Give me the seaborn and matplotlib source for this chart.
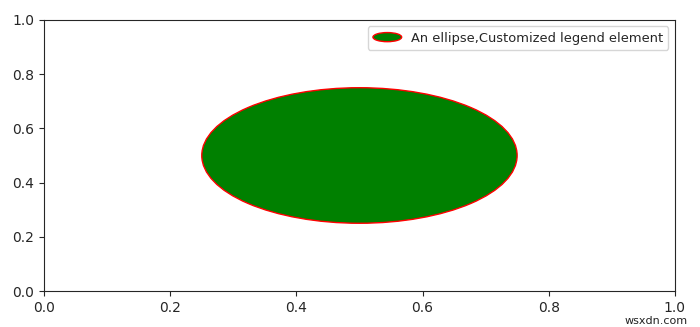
import matplotlib
matplotlib.use("Agg")
import matplotlib.pyplot as plt
import seaborn as sns
from matplotlib.patches import Ellipse
from matplotlib.legend_handler import HandlerPatch

sns.set_style("ticks")
plt.rcParams['font.family'] = ['DejaVu Sans']

center_x = [0.5]
center_y = [0.5]
ell_width = [0.5]
ell_height = [0.5]
labels = ["An ellipse,Customized legend element"]
x_ticks = [0.0, 0.2, 0.4, 0.6, 0.8, 1.0]
y_ticks = [0.0, 0.2, 0.4, 0.6, 0.8, 1.0]


class HandlerEllipse(HandlerPatch):
    def create_artists(self, legend, orig_handle, xdescent, ydescent,
                       width, height, fontsize, trans):
        c = (0.5 * width - 0.5 * xdescent, 0.5 * height - 0.5 * ydescent)
        p = Ellipse(xy=c, width=width + xdescent, height=height + ydescent)
        self.update_prop(p, orig_handle, legend)
        p.set_transform(trans)
        return [p]


fig = plt.figure(figsize=(7.0, 3.27), dpi=100)
ax = fig.add_axes([0.063, 0.110, 0.901, 0.829])

patches = []
for cx, cy, w, h, lab in zip(center_x, center_y, ell_width, ell_height, labels):
    e = Ellipse((cx, cy), w, h, facecolor="green", edgecolor="red",
                linewidth=1.0, label=lab)
    ax.add_patch(e)
    patches.append(e)

ax.set_xlim(0, 1)
ax.set_ylim(0, 1)
ax.set_xticks(x_ticks)
ax.set_yticks(y_ticks)
ax.tick_params(labelsize=10)

ax.legend(handles=patches, handler_map={Ellipse: HandlerEllipse()},
          loc="upper right", fontsize=9.4, handlelength=2.2,
          handletextpad=0.7)

fig.text(0.983, 0.002, "wsxdn.com", ha="right", va="bottom", fontsize=8,
         color="#222222")

fig.savefig("out.png", dpi=100)
